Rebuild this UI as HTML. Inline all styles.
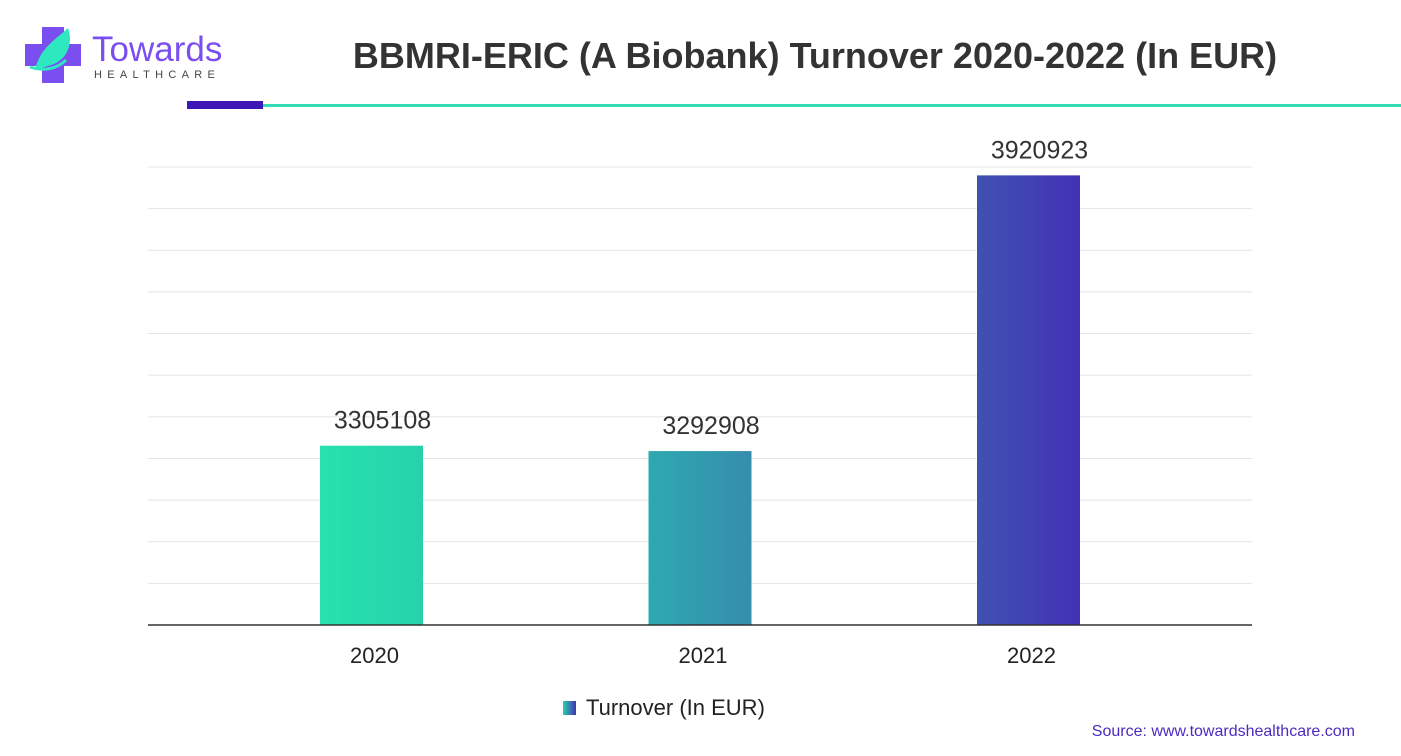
<!DOCTYPE html>
<html><head><meta charset="utf-8"><style>
html,body{margin:0;padding:0;background:#fff;}
body{width:1401px;height:751px;overflow:hidden;font-family:"Liberation Sans",sans-serif;}
</style></head><body>
<svg id="chart" width="1401" height="751" xmlns="http://www.w3.org/2000/svg" font-family="Liberation Sans, sans-serif">
<defs>
<linearGradient id="g0" x1="0" x2="1"><stop offset="0" stop-color="#26e2ad"/><stop offset="1" stop-color="#27d2ab"/></linearGradient>
<linearGradient id="g1" x1="0" x2="1"><stop offset="0" stop-color="#2ea9b0"/><stop offset="1" stop-color="#368dae"/></linearGradient>
<linearGradient id="g2" x1="0" x2="1"><stop offset="0" stop-color="#3f52b1"/><stop offset="1" stop-color="#4331b6"/></linearGradient>
<linearGradient id="gl" x1="0" x2="1"><stop offset="0" stop-color="#26d3ab"/><stop offset="1" stop-color="#4232b5"/></linearGradient>
</defs>
<g>
<rect x="42" y="27" width="22" height="56" fill="#7b4ef0"/>
<rect x="25" y="44" width="56" height="22" fill="#7b4ef0"/>
<path d="M35 70 C40 48 55 40 68 28 C74 45 66 62 48 66 Z" fill="#2ee8c0"/>
<path d="M30 67 C45 72 58 68 66 60" stroke="#2ee8c0" stroke-width="3" fill="none"/>
<text x="92" y="61" font-size="35" fill="#7b4ef0">Towards</text>
<text x="94" y="78" font-size="11" fill="#444" letter-spacing="5.3">HEALTHCARE</text>
</g>
<text x="815" y="68" text-anchor="middle" font-size="36" font-weight="bold" fill="#333">BBMRI-ERIC (A Biobank) Turnover 2020-2022 (In EUR)</text>
<rect x="187" y="101" width="76" height="8" fill="#3d16b6"/>
<rect x="263" y="104" width="1138" height="3" fill="#35dbb4"/>
<g id="grid"></g>
<g id="bars"></g>
<line x1="148" x2="1252" y1="625" y2="625" stroke="#333" stroke-width="1.5"/>
<g>
<rect x="563" y="701" width="13" height="14" fill="url(#gl)"/>
<text x="586" y="715" font-size="22" fill="#222">Turnover (In EUR)</text>
</g>
<text x="1355" y="736" text-anchor="end" font-size="16" fill="#4a2bc2">Source: www.towardshealthcare.com</text>
</svg>
<script>
const categories = ["2020", "2021", "2022"];
const turnover = [3305108, 3292908, 3920923];
const valueLabels = ["3305108", "3292908", "3920923"];
const yMin = 2896700, yMax = 3940000, gridCount = 11;
const NS = "http://www.w3.org/2000/svg";
const plotTop = 167, plotBottom = 625;
function yScale(v){ return plotBottom - (v - yMin) / (yMax - yMin) * (plotBottom - plotTop); }
function xCenter(i){ return 371.5 + i * 328.5; }
const grid = document.getElementById('grid');
for (let k = 1; k <= gridCount; k++) {
  const y = plotBottom - k * (plotBottom - plotTop) / gridCount;
  const l = document.createElementNS(NS, 'line');
  
  
  l.setAttribute('x1', 148); l.setAttribute('x2', 1252);
  l.setAttribute('y1', y); l.setAttribute('y2', y);
  l.setAttribute('stroke', '#e4e4e4'); l.setAttribute('stroke-width', '1');
  grid.appendChild(l);
}
const bars = document.getElementById('bars');
categories.forEach((c, i) => {
  const cx = xCenter(i), y = yScale(turnover[i]);
  const r = document.createElementNS(NS, 'rect');
  
  
  r.setAttribute('x', cx - 51.5); r.setAttribute('width', 103);
  r.setAttribute('y', y); r.setAttribute('height', plotBottom - y);
  r.setAttribute('fill', 'url(#g' + i + ')');
  bars.appendChild(r);
  const t = document.createElementNS(NS, 'text');
  
  
  t.setAttribute('x', cx + 11); t.setAttribute('y', y - 17);
  t.setAttribute('text-anchor', 'middle'); t.setAttribute('font-size', '25'); t.setAttribute('fill', '#333');
  t.textContent = valueLabels[i];
  bars.appendChild(t);
  const xl = document.createElementNS(NS, 'text');
  
  
  xl.setAttribute('x', cx + 3); xl.setAttribute('y', 663);
  xl.setAttribute('text-anchor', 'middle'); xl.setAttribute('font-size', '22'); xl.setAttribute('fill', '#222');
  xl.textContent = c;
  bars.appendChild(xl);
});
</script>
</body></html>
